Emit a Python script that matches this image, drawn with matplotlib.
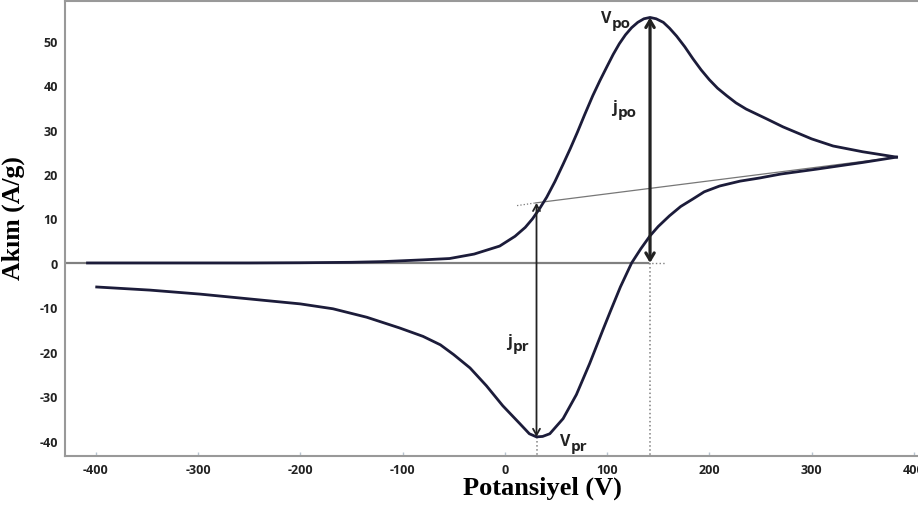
import matplotlib
matplotlib.use('Agg')
from matplotlib import pyplot as plt

plt.rcParams['axes.unicode_minus'] = False

# ileri tarama (anodik kol)
fwd_v = [-408, -350, -300, -250, -200, -150, -120, -100, -80, -54, -30, -5, 10, 20, 27, 34, 41,
         49, 57, 64, 71, 78, 86, 93, 100, 106, 112, 118, 124, 130, 136, 142, 148, 155, 161, 168,
         176, 184, 192, 200, 208, 217, 226, 236, 256, 272, 300, 321, 350, 383]
fwd_i = [0, 0, 0, 0, 0.05, 0.15, 0.3, 0.5, 0.7, 1.0, 2.0, 3.8, 6.0, 8.0, 9.9, 12.2, 14.8,
         18.3, 22.2, 25.7, 29.4, 33.3, 37.6, 41.0, 44.2, 46.9, 49.3, 51.3, 52.9, 54.1, 54.9, 55.2,
         54.9, 54.1, 52.8, 51.0, 48.6, 45.9, 43.4, 41.2, 39.3, 37.6, 36.0, 34.6, 32.4, 30.6,
         27.9, 26.3, 25.0, 23.8]

# geri tarama (katodik kol)
rev_v = [383, 350, 305, 270, 249, 230, 210, 195, 184, 172, 161, 150, 142, 133, 124, 113, 103,
         96, 83, 70, 57, 44, 37, 31, 24, 15, -2, -18, -34, -50, -63, -80, -103, -135, -168,
         -200, -249, -298, -347, -399]
rev_i = [23.8, 22.6, 21.1, 20.0, 19.1, 18.4, 17.3, 16.0, 14.4, 12.7, 10.6, 8.2, 6.1, 3.2, 0.0,
         -5.4, -11.0, -15.0, -22.6, -29.6, -35.0, -38.4, -39.0, -39.1, -38.4, -36.2, -32.1,
         -27.6, -23.6, -20.6, -18.4, -16.5, -14.6, -12.2, -10.3, -9.2, -8.1, -7.0, -6.1, -5.4]

# taban cizgisi ve tepe noktalari
base_v = [30, 383]
base_i = [13.5, 23.8]
base_ext_v = [12, 30]
base_ext_i = [12.9, 13.5]
vpo, ipo = 142, 55.2
vpr, ipr = 31, -39.1

xticks = [-400, -300, -200, -100, 0, 100, 200, 300, 400]
yticks = [-40, -30, -20, -10, 0, 10, 20, 30, 40, 50]

curve_col = '#1c1c3a'
grey = '#808080'
ink = '#222222'

fig = plt.figure(figsize=(9.18, 5.06), dpi=100)
ax = fig.add_axes([65 / 918, 1 - 457 / 506, 1 - 65 / 918, 455 / 506])
ax.set_xlim(-430, 404)
ax.set_ylim(-43.4, 58.9)

# sifir cizgisi
ax.plot([-430, 140], [0, 0], color=grey, lw=1.6, zorder=1)
ax.plot([140, 158], [0, 0], color=grey, lw=1, ls=':', zorder=1)

ax.plot(fwd_v, fwd_i, color=curve_col, lw=2, solid_joinstyle='round', zorder=3)
ax.plot(rev_v, rev_i, color=curve_col, lw=2, solid_joinstyle='round', zorder=3)

ax.plot(base_v, base_i, color='#777777', lw=0.9, zorder=2)
ax.plot(base_ext_v, base_ext_i, color='#777777', lw=0.9, ls=':', zorder=2)

# kesikli dusey cizgiler
ax.plot([vpo, vpo], [0, -43.4], color=grey, lw=1.1, ls=':', zorder=1)
ax.plot([vpr, vpr], [ipr, -43.4], color=grey, lw=1.1, ls=':', zorder=1)

# oklar
ax.annotate('', xy=(vpo, ipo), xytext=(vpo, 0),
            arrowprops=dict(arrowstyle='<->,head_length=0.5,head_width=0.3',
                            color=ink, lw=2.3, shrinkA=0, shrinkB=0), zorder=4)
ax.annotate('', xy=(vpr, base_i[0]), xytext=(vpr, ipr),
            arrowprops=dict(arrowstyle='<->,head_length=0.45,head_width=0.25',
                            color=ink, lw=1.3, shrinkA=0, shrinkB=0), zorder=4)


def label(x, y, main, sub):
    ax.text(x, y, main, fontsize=11.5, fontweight='bold', family='Open Sans',
            color=ink, ha='left', va='baseline')
    ax.annotate(sub, xy=(x, y), xytext=(8 if main == 'V' else 4.5, -3.5),
                textcoords='offset points', fontsize=11, fontweight='bold',
                family='Open Sans', color=ink, ha='left', va='baseline')


label(94, 54.2, 'V', 'po')
label(104.6, 34.2, 'j', 'po')
label(2, -18.5, 'j', 'pr')
label(53.8, -41.0, 'V', 'pr')

ax.set_xticks(xticks)
ax.set_yticks(yticks)
for t in ax.get_xticklabels() + ax.get_yticklabels():
    t.set_family('Open Sans')
    t.set_fontweight('bold')
    t.set_fontsize(9)
    t.set_color(ink)
ax.tick_params(axis='x', direction='in', length=3, width=1, color='#b8c4d0', pad=5)
ax.tick_params(axis='y', direction='in', length=0, pad=5)

for s in ['left', 'bottom', 'top']:
    ax.spines[s].set_color('#999999')
    ax.spines[s].set_linewidth(1.5)
ax.spines['right'].set_visible(False)

ax.set_xlabel('Potansiyel (V)', family='Liberation Serif', fontweight='bold', fontsize=19)
ax.set_ylabel('Akım (A/g)', family='Liberation Serif', fontweight='bold', fontsize=18.5)
ax.xaxis.set_label_coords(0.56, -0.042)
ax.yaxis.set_label_coords(-0.047, 0.525)

fig.savefig('out.png', dpi=100)
